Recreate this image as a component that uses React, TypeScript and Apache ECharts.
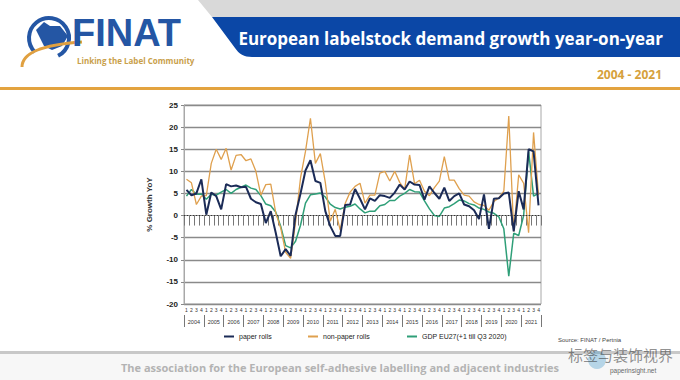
import { useEffect, useRef } from 'react';
import * as echarts from 'echarts';

const years = ['2004','2005','2006','2007','2008','2009','2010','2011','2012','2013','2014','2015','2016','2017','2018','2019','2020','2021'];
const quarterLabels = ['1', '2', '3', '4'];
const yTicks = { min: -20, max: 25, step: 5 };

const paperRolls = [
  5.8, 4.6, 5.0, 8.2,
  0.2, 5.2, 4.4, 1.4,
  7.1, 6.6, 6.8, 6.4,
  6.5, 3.8, 3.0, 2.6,
  -1.7, 1.0, -3.9, -9.2,
  -7.6, -9.1, 0.2, 5.0,
  10.2, 12.5, 7.8, 7.4,
  1.0, -2.4, -4.6, -4.6,
  2.4, 2.5, 6.0, 3.8,
  1.4, 3.9, 3.3, 4.6,
  4.4, 4.0, 5.2, 7.0,
  5.9, 7.7, 7.0, 6.9,
  3.6, 6.6, 5.1, 3.8,
  6.3, 3.3, 4.4, 5.0,
  2.5, 2.1, 1.2, -0.8,
  4.8, -3.0, 3.8, 3.9,
  5.0, 5.2, -3.6, 5.5,
  1.4, 15.0, 14.5, 2.3,
];

const nonPaperRolls = [
  8.2, 7.4, 2.5, 4.4,
  4.5, 11.8, 15.0, 12.7,
  15.2, 10.3, 13.6, 13.8,
  12.4, 12.8, 10.0, 4.6,
  7.0, 7.1, 0.6, -2.8,
  -8.3, -9.7, -1.5, 8.5,
  14.5, 22.0, 11.8, 14.0,
  7.5, -1.3, 1.4, -3.3,
  2.7, 5.3, 6.6, 7.3,
  2.8, 4.6, 4.6, 9.6,
  10.0, 7.8, 10.0, 7.5,
  5.9, 13.7, 7.2, 8.0,
  5.5, 4.5, 6.3, 7.8,
  13.3, 8.0, 8.0, 6.1,
  4.6, 4.4, 3.1, 2.5,
  2.3, 1.2, 3.2, 4.0,
  5.5, 22.5, -3.6, 9.2,
  7.3, -3.9, 18.8, 4.6,
];

const gdpEU27 = [
  4.4, 5.9, 4.8, 4.9,
  3.7, 4.8, 4.6, 5.3,
  5.9, 5.0, 5.9, 6.4,
  6.9, 6.2, 5.9, 4.5,
  2.6, 2.2, 0.8, -2.4,
  -6.8, -7.3, -5.8, -2.2,
  2.8, 4.7, 4.9, 5.1,
  4.2, 2.6, 1.8, 1.5,
  1.9, 2.1, 2.6, 1.5,
  0.6, 1.0, 1.0, 2.2,
  2.5, 3.4, 3.4, 4.4,
  5.0, 5.9, 5.4, 5.3,
  3.3, 1.5, 0.0, -0.2,
  1.7, 2.0, 2.7, 3.5,
  3.3, 2.7, 2.4, 1.7,
  1.4, 0.8, 0.5, -0.3,
  -3.0, -13.7, -4.0, -4.5,
  0.0, 14.5, 4.4, 5.0,
];

const seriesNames = ['paper rolls', 'non-paper rolls', 'GDP EU27(+1 till Q3 2020)'];

echarts.graphic.registerShape(
  'banner',
  echarts.graphic.extendPath('M0 0 L468 0 L468 40 L40 40 C32 40 27 37 23 31 Z', {})
);

const categories: string[] = [];
years.forEach((y) => quarterLabels.forEach((q) => categories.push(y + ' Q' + q)));

const font = 'Liberation Sans, Arial, sans-serif';
const gridColors: string[] = [];
for (let v = yTicks.min; v <= yTicks.max; v += yTicks.step) {
  gridColors.push(v === 0 ? 'rgba(0,0,0,0)' : '#8a8a8a');
}

export default function App() {
  const ref = useRef<HTMLDivElement>(null);
  useEffect(() => {
    const chart = echarts.init(ref.current, null, { renderer: 'svg' });
    const legendBase = {
      top: 333,
      padding: 0,
      itemWidth: 10,
      itemHeight: 2,
      icon: 'rect',
      itemGap: 4,
      textStyle: { fontSize: 7, color: '#222', fontFamily: font },
    };
    chart.setOption({
      animation: false,
      backgroundColor: '#ffffff',
      grid: {
        left: 184,
        right: 139,
        top: 105,
        bottom: 76,
        show: true,
        borderColor: '#a8a8a8',
        borderWidth: 1,
        backgroundColor: 'transparent',
      },
      legend: [
        { ...legendBase, left: 224, data: [seriesNames[0]] },
        { ...legendBase, left: 308, data: [seriesNames[1]] },
        { ...legendBase, left: 407, data: [seriesNames[2]] },
      ],
      xAxis: [
        {
          type: 'category',
          data: categories,
          boundaryGap: true,
          axisLine: { show: true, lineStyle: { color: '#8a8a8a', width: 1 } },
          axisTick: { show: true, interval: 0, length: 10, lineStyle: { color: '#777' } },
          axisLabel: {
            interval: 0,
            fontSize: 5,
            margin: 3,
            color: '#333',
            fontFamily: font,
            formatter: (v: string) => v.slice(-1),
          },
          splitLine: { show: false },
        },
        {
          type: 'category',
          data: years,
          position: 'bottom',
          offset: 11,
          boundaryGap: true,
          min: 0,
          max: years.length - 1,
          axisLine: { show: false },
          axisTick: { show: true, interval: 0, length: 12, lineStyle: { color: '#777' } },
          axisLabel: { interval: 0, fontSize: 5.5, margin: 4, color: '#333', fontFamily: font },
          splitLine: { show: false },
        },
      ],
      yAxis: {
        type: 'value',
        min: yTicks.min,
        max: yTicks.max,
        interval: yTicks.step,
        name: '% Growth YoY',
        nameLocation: 'middle',
        nameGap: 31,
        nameTextStyle: { fontSize: 8, fontWeight: 'bold', color: '#333', fontFamily: font },
        axisLine: { show: true, lineStyle: { color: '#a8a8a8' } },
        axisTick: { show: true, length: 3, lineStyle: { color: '#888' } },
        axisLabel: { fontSize: 8, fontWeight: 'bold', color: '#222', margin: 6, fontFamily: font },
        splitLine: { show: true, lineStyle: { color: gridColors, width: 1.4 } },
      },
      series: [
        {
          name: seriesNames[0],
          type: 'line',
          data: paperRolls,
          symbol: 'none',
          z: 4,
          lineStyle: { width: 2, color: '#1b2b57' },
          itemStyle: { color: '#1b2b57' },
          markLine: {
            silent: true,
            symbol: 'none',
            label: { show: false },
            lineStyle: { type: [1, 2], color: '#333', width: 1 },
            data: [{ yAxis: 0 }],
          },
        },
        {
          name: seriesNames[1],
          type: 'line',
          data: nonPaperRolls,
          symbol: 'none',
          z: 3,
          lineStyle: { width: 1.3, color: '#dfa04e' },
          itemStyle: { color: '#dfa04e' },
        },
        {
          name: seriesNames[2],
          type: 'line',
          data: gdpEU27,
          symbol: 'none',
          z: 2,
          lineStyle: { width: 1.5, color: '#2f9f78' },
          itemStyle: { color: '#2f9f78' },
        },
      ],
      graphic: [
        { type: 'polygon', shape: { points: [[198, 0], [680, 0], [680, 17], [212, 17]] }, style: { fill: '#d9d9d9' }, z: -1 },
        { type: 'banner', x: 212, y: 17, style: { fill: '#0b47a6' }, z: 0 },
        {
          type: 'text',
          x: 663,
          y: 38,
          style: {
            text: 'European labelstock demand growth year-on-year',
            fill: '#ffffff',
            font: 'bold 17px "Open Sans", sans-serif',
            textAlign: 'right',
            textVerticalAlign: 'middle',
          },
        },
        {
          type: 'text',
          x: 662,
          y: 74,
          style: {
            text: '2004 - 2021',
            fill: '#d6a13c',
            font: 'bold 12px "Open Sans", sans-serif',
            textAlign: 'right',
            textVerticalAlign: 'middle',
          },
        },
        { type: 'rect', shape: { x: 0, y: 87, width: 680, height: 3 }, style: { fill: '#e3a33f' } },
        {
          type: 'arc',
          shape: { cx: 49, cy: 38, r: 20, startAngle: Math.PI * 0.75, endAngle: Math.PI * 2.35 },
          style: { stroke: '#2456a4', lineWidth: 4, fill: 'none' },
        },
        {
          type: 'polygon',
          shape: { points: [[36, 30], [44, 22], [50, 26], [60, 26], [68, 36], [62, 46], [52, 50], [44, 46], [40, 38]] },
          style: { fill: '#2456a4' },
        },
        {
          type: 'bezierCurve',
          shape: { x1: 22, y1: 67, cpx1: 22, cpy1: 46, x2: 82, y2: 42 },
          style: { stroke: '#e0a040', lineWidth: 3, fill: 'none' },
        },
        {
          type: 'text',
          x: 72,
          y: 33,
          style: {
            text: 'FINAT',
            fill: '#2456a4',
            font: 'bold 38px "Liberation Sans", Arial, sans-serif',
            textVerticalAlign: 'middle',
          },
        },
        {
          type: 'text',
          x: 77,
          y: 60,
          style: {
            text: 'Linking the Label Community',
            fill: '#c9a04a',
            font: 'bold 8px "Open Sans", sans-serif',
            textVerticalAlign: 'middle',
          },
        },
        { type: 'rect', shape: { x: 0, y: 351, width: 680, height: 3 }, style: { fill: '#c8c8c8' } },
        { type: 'rect', shape: { x: 0, y: 354, width: 680, height: 26 }, style: { fill: '#f7f7f7' } },
        {
          type: 'text',
          x: 340,
          y: 367,
          style: {
            text: 'The association for the European self-adhesive labelling and adjacent industries',
            fill: '#b3b3b3',
            font: 'bold 11px "Open Sans", sans-serif',
            textAlign: 'center',
            textVerticalAlign: 'middle',
          },
        },
        {
          type: 'text',
          x: 558,
          y: 340,
          style: { text: 'Source: FINAT / Pertnia', fill: '#444', font: '6px "Liberation Sans", Arial, sans-serif', textVerticalAlign: 'middle' },
        },
        {
          type: 'circle',
          shape: { cx: 597, cy: 360, r: 9 },
          style: { fill: 'rgba(60,150,200,0.35)', stroke: 'none' },
        },
        {
          type: 'text',
          x: 568,
          y: 354,
          style: { text: '标签与装饰视界', fill: 'rgba(50,50,50,0.55)', font: '15px "Noto Sans CJK SC", sans-serif', textVerticalAlign: 'middle' },
        },
        {
          type: 'text',
          x: 610,
          y: 370,
          style: { text: 'paperinsight.net', fill: '#666', font: '6.5px "Liberation Sans", Arial, sans-serif', textVerticalAlign: 'middle' },
        },
      ],
    });
    return () => chart.dispose();
  }, []);
  return <div ref={ref} style={{ position: 'fixed', left: 0, top: 0, width: 680, height: 380 }} />;
}
